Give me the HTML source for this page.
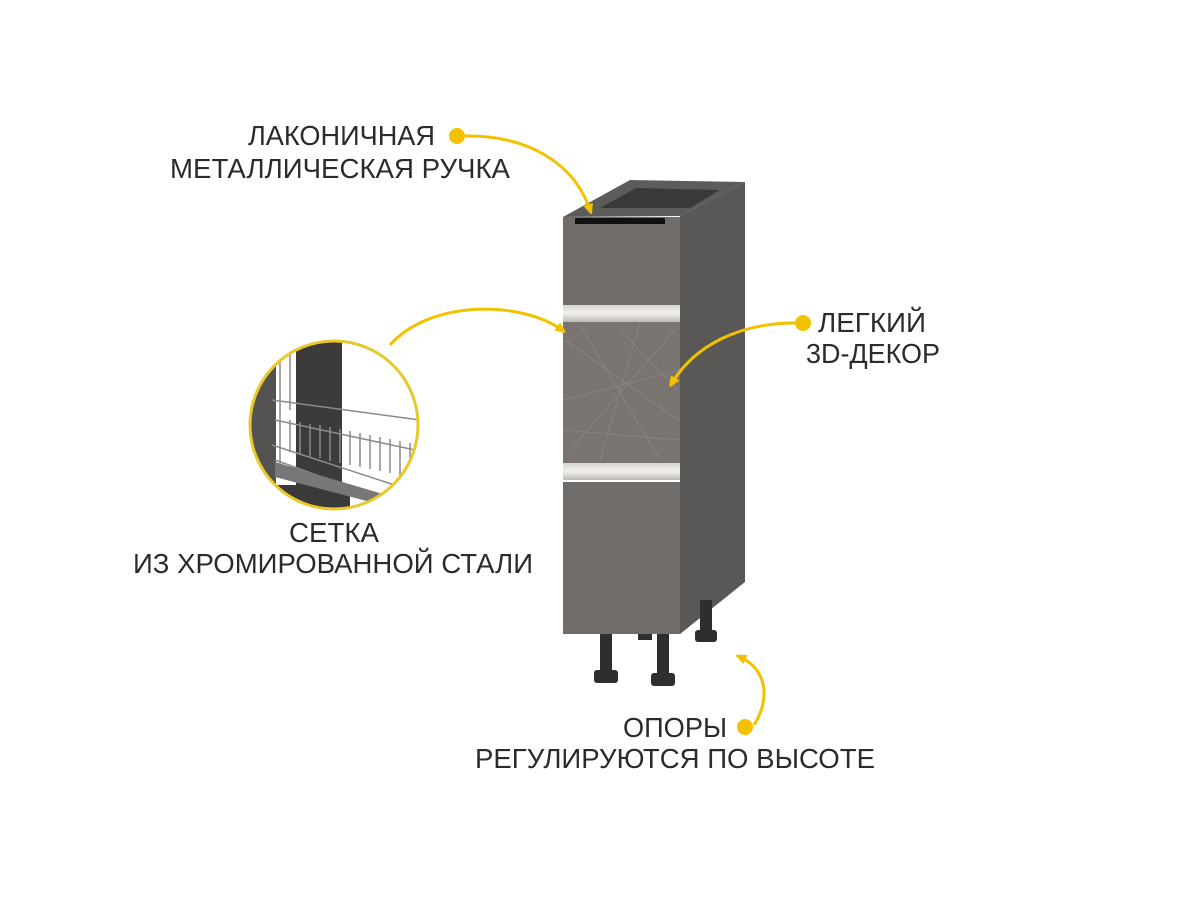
<!DOCTYPE html>
<html><head><meta charset="utf-8"><style>
html,body{margin:0;padding:0;background:#fff;}
svg{display:block;}
text{font-family:"Liberation Sans",sans-serif;fill:#2b2b2b;font-size:27.5px;}
</style></head><body>
<svg width="1200" height="900" viewBox="0 0 1200 900" xmlns="http://www.w3.org/2000/svg">
<defs>
<marker id="ah" markerWidth="10" markerHeight="10" refX="6" refY="5" orient="auto" markerUnits="userSpaceOnUse"><path d="M0,0 L12,5 L0,10 z" fill="#f2c200"/></marker>
<clipPath id="cc"><circle cx="334" cy="425" r="84"/></clipPath>
<linearGradient id="strip" x1="0" y1="0" x2="0" y2="1"><stop offset="0" stop-color="#d8d4d0"/><stop offset="0.5" stop-color="#f2f0ee"/><stop offset="1" stop-color="#bdb8b4"/></linearGradient>
</defs>
<polygon points="680,216 745,182 745,582 680,634" fill="#5a5856"/>
<polygon points="563,217 630,180 745,182 680,216" fill="#5e5c5a"/>
<polygon points="636,188 720,190 690,208 600,208" fill="#3b3a39"/>
<rect x="563" y="217" width="117" height="88" fill="#706c69"/>
<rect x="575" y="218" width="90" height="6" fill="#111"/>
<rect x="563" y="305" width="117" height="17" fill="url(#strip)"/>
<rect x="563" y="322" width="117" height="141" fill="#7a7470"/>
<g stroke="#928c88" stroke-width="0.8" fill="none" opacity="0.8">
<path d="M565,340 L678,420 M570,450 L675,330 M580,325 L660,460 M563,400 L680,370 M600,460 L640,322 M563,430 L680,440 M620,330 L678,390"/>
</g>
<rect x="563" y="463" width="117" height="17" fill="url(#strip)"/>
<rect x="563" y="482" width="117" height="152" fill="#706c69"/>
<g fill="#2e2e2e">
<rect x="700" y="600" width="12" height="35"/><rect x="695" y="630" width="22" height="12" rx="3"/>
<rect x="600" y="634" width="12" height="40"/><rect x="594" y="670" width="24" height="13" rx="3"/>
<rect x="657" y="634" width="12" height="43"/><rect x="651" y="673" width="24" height="13" rx="3"/>
<rect x="638" y="634" width="14" height="6"/>
</g>
<g clip-path="url(#cc)">
<rect x="240" y="330" width="200" height="200" fill="#ffffff"/>
<rect x="240" y="330" width="36" height="200" fill="#555351"/>
<rect x="296" y="340" width="46" height="150" fill="#3c3b3a"/>
<rect x="270" y="485" width="80" height="40" fill="#3a3a3a"/>
<g stroke="#8a8a8a" stroke-width="1.5" fill="none">
<path d="M272,400 L420,420 M275,420 L415,450 M272,445 L410,490 M275,460 L400,505"/>
<path d="M290,420 v32 M300,422 v32 M310,424 v33 M320,425 v33 M330,427 v34 M340,429 v34 M350,431 v34 M360,433 v34 M370,435 v34 M380,437 v34 M390,439 v34 M400,441 v34 M410,443 v34"/>
<path d="M280,340 v130 M290,340 v70"/>
</g>
<polygon points="275,462 420,505 420,515 275,477" fill="#777"/>
</g>
<circle cx="334" cy="425" r="84" fill="none" stroke="#e8c82a" stroke-width="3"/>
<g stroke="#f2c200" stroke-width="3" fill="none">
<path d="M465,136 C530,135 575,165 590,210" marker-end="url(#ah)"/>
<path d="M795,323 C740,323 695,345 672,383" marker-end="url(#ah)"/>
<path d="M390,345 C430,300 520,300 562,330" marker-end="url(#ah)"/>
<path d="M754,725 C770,700 768,670 740,657" marker-end="url(#ah)"/>
</g>
<g fill="#f2c200">
<circle cx="457" cy="136" r="8"/>
<circle cx="803" cy="323" r="8"/>
<circle cx="745" cy="727" r="8"/>
</g>
<text x="248" y="145" textLength="187" lengthAdjust="spacingAndGlyphs">ЛАКОНИЧНАЯ</text>
<text x="170" y="178" textLength="340" lengthAdjust="spacingAndGlyphs">МЕТАЛЛИЧЕСКАЯ РУЧКА</text>
<text x="818" y="332" textLength="108" lengthAdjust="spacingAndGlyphs">ЛЕГКИЙ</text>
<text x="806" y="363" textLength="134" lengthAdjust="spacingAndGlyphs">3D-ДЕКОР</text>
<text x="289" y="542" textLength="90" lengthAdjust="spacingAndGlyphs">СЕТКА</text>
<text x="133" y="573" textLength="400" lengthAdjust="spacingAndGlyphs">ИЗ ХРОМИРОВАННОЙ СТАЛИ</text>
<text x="623" y="737" textLength="104" lengthAdjust="spacingAndGlyphs">ОПОРЫ</text>
<text x="475" y="768" textLength="400" lengthAdjust="spacingAndGlyphs">РЕГУЛИРУЮТСЯ ПО ВЫСОТЕ</text>
</svg>
</body></html>
